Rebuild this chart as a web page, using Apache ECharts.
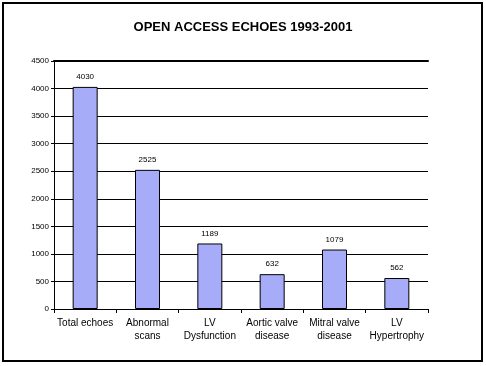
<!DOCTYPE html>
<html><head><meta charset="utf-8">
<script src="https://cdn.jsdelivr.net/npm/echarts@6/dist/echarts.min.js"></script>
<style>html,body{margin:0;padding:0;background:#fff}#c{width:486px;height:366px}</style>
</head><body><div id="c"></div>
<script>
const categories = ['Total echoes', 'Abnormal\nscans', 'LV\nDysfunction', 'Aortic valve\ndisease', 'Mitral valve\ndisease', 'LV\nHypertrophy'];
const values = [4030, 2525, 1189, 632, 1079, 562];
const titleText = 'OPEN ACCESS ECHOES 1993-2001';

const chart = echarts.init(document.getElementById('c'), null, {renderer: 'canvas'});
chart.setOption({
  animation: false,
  backgroundColor: '#fff',
  title: {
    text: titleText, left: 'center', top: 16,
    textStyle: {fontFamily: 'Liberation Sans', fontWeight: 'bold', fontSize: 13, color: '#000'}
  },
  graphic: [{
    type: 'rect', shape: {x: 3, y: 3, width: 479, height: 358},
    style: {fill: 'none', stroke: '#000', lineWidth: 2}, z: 10
  }],
  grid: {left: 54, right: 58, top: 61, bottom: 57},
  xAxis: [{
    type: 'category', data: categories,
    axisLine: {lineStyle: {color: '#000', width: 1}},
    axisTick: {show: true, length: 4, lineStyle: {color: '#000'}},
    axisLabel: {fontFamily: 'Liberation Sans', fontSize: 10, color: '#000', margin: 8, lineHeight: 13, interval: 0}
  }, {
    type: 'category', data: categories, position: 'top',
    axisLine: {show: true, lineStyle: {color: '#000', width: 2}},
    axisTick: {show: false}, axisLabel: {show: false}
  }],
  yAxis: {
    type: 'value', min: 0, max: 4500, interval: 500,
    axisLine: {show: true, lineStyle: {color: '#000', width: 1}},
    axisTick: {show: true, length: 3, lineStyle: {color: '#000'}},
    axisLabel: {fontFamily: 'Liberation Sans', fontSize: 8, color: '#000', margin: 5, formatter: v => String(v)},
    splitLine: {lineStyle: {color: '#000', width: 1}}
  },
  series: [{
    type: 'bar', data: values, barWidth: 25, xAxisIndex: 0,
    itemStyle: {color: '#a7acf8', borderColor: '#000', borderWidth: 1},
    label: {show: true, position: 'top', distance: 6, fontFamily: 'Liberation Sans', fontSize: 8, color: '#000'}
  }]
});
</script></body></html>
